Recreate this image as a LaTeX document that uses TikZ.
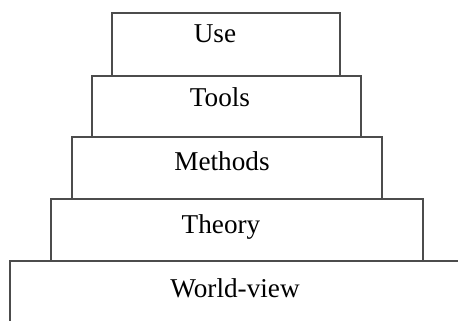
\documentclass[tikz,border=0pt]{standalone}
\usepackage{fontspec}
\setmainfont{Liberation Serif}
\usepackage{tikz}

\begin{document}
\begin{tikzpicture}[x=0.5pt,y=-0.5pt,
                   layer/.style={draw=black!70,line width=0.8pt},
                   lbl/.style={anchor=base,inner sep=0pt,font=\fontsize{13.6}{16}\selectfont}]
\useasboundingbox (0,0) rectangle (458,320);
\clip (0,0) rectangle (458,320);
% the steps, from the top down
\draw[layer] (112,13) rectangle (340,76);
\draw[layer] (92,76) rectangle (361,137);
\draw[layer] (72,137) rectangle (382,199);
\draw[layer] (51,199) rectangle (423,261);
\draw[layer] (10,261) rectangle (470,330);
\node[lbl] (use) at (215,43) {Use};
\node[lbl] (tools) at (220,107) {Tools};
\node[lbl] (methods) at (222,170) {Methods};
\node[lbl] (theory) at (221,233) {Theory};
\node[lbl] (world) at (235,297) {World-view};
\end{tikzpicture}
\end{document}
